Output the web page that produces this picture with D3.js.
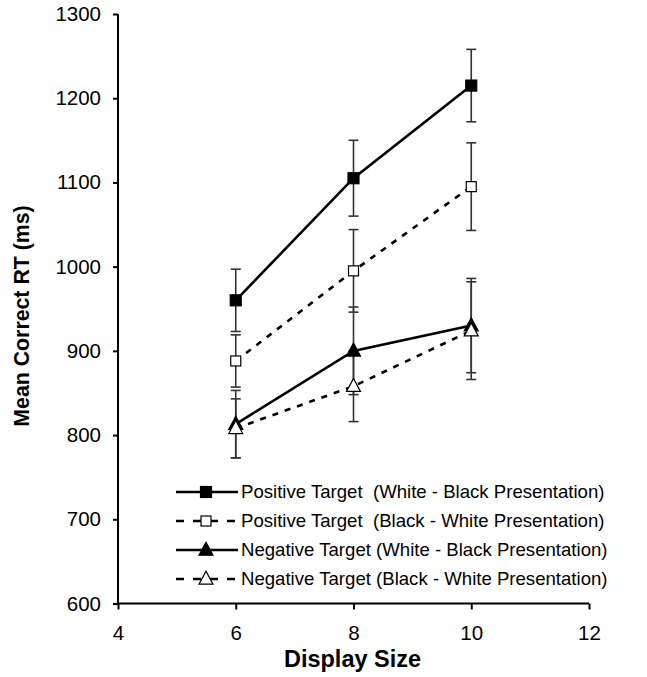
<!DOCTYPE html>
<html><head><meta charset="utf-8">
<script src="https://cdnjs.cloudflare.com/ajax/libs/d3/7.8.5/d3.min.js"></script>
<style>body{margin:0;background:#fff}svg{display:block}text{font-family:"Liberation Sans",Arial,sans-serif}</style>
</head><body><svg id="c" width="647" height="677"></svg>
<script>
const displaySizes = [6, 8, 10];
const xTicks = [4, 6, 8, 10, 12];
const yTicks = [600, 700, 800, 900, 1000, 1100, 1200, 1300];
const seriesNames = [
  "Positive Target  (White - Black Presentation)",
  "Positive Target  (Black - White Presentation)",
  "Negative Target (White - Black Presentation)",
  "Negative Target (Black - White Presentation)"
];
const posWB = [960, 1105, 1215];
const posWBErr = [37, 45, 43];
const posBW = [888, 995, 1095];
const posBWErr = [31, 49, 52];
const negWB = [813, 900, 930];
const negWBErr = [40, 52, 56];
const negBW = [808, 858, 924];
const negBWErr = [35, 42, 58];

const series = [
  {name: seriesNames[0], v: posWB, e: posWBErr, marker: "square", fill: "#000", dash: null},
  {name: seriesNames[1], v: posBW, e: posBWErr, marker: "square", fill: "#fff", dash: "6,7"},
  {name: seriesNames[2], v: negWB, e: negWBErr, marker: "triangle", fill: "#000", dash: null},
  {name: seriesNames[3], v: negBW, e: negBWErr, marker: "triangle", fill: "#fff", dash: "6,7"}
];

const svg = d3.select("#c");
const x = d3.scaleLinear().domain([4, 12]).range([118, 589]);
const y = d3.scaleLinear().domain([600, 1300]).range([603.5, 14]);

// axes
const xAxis = svg.append("g").attr("transform", "translate(0,603.5)")
  .call(d3.axisBottom(x).tickValues(xTicks).tickSize(6).tickPadding(16).tickFormat(d3.format("d")));
const yAxis = svg.append("g").attr("transform", "translate(118,0)")
  .call(d3.axisLeft(y).tickValues(yTicks).tickSize(5).tickPadding(12).tickFormat(d3.format("d")));
[xAxis, yAxis].forEach(a => {
  a.select(".domain").attr("stroke", "#000").attr("stroke-width", 2);
  a.selectAll(".tick line").attr("stroke", "#000").attr("stroke-width", 2);
  a.selectAll("text").attr("font-size", 20.5).attr("fill", "#000").attr("font-family", "Liberation Sans, Arial, sans-serif");
});
xAxis.select(".domain").attr("d", `M${x(4)},0H${x(12)}`);
yAxis.select(".domain").attr("d", `M0,${y(600)}V${y(1300)}`);

svg.append("text").attr("x", 352.5).attr("y", 667).attr("text-anchor", "middle")
  .attr("font-size", 23.5).attr("font-weight", "bold").text("Display Size");
svg.append("text").attr("transform", "translate(29,316) rotate(-90)").attr("text-anchor", "middle")
  .attr("font-size", 21.3).attr("font-weight", "bold").text("Mean Correct RT (ms)");

function drawMarker(g, type, fill, cx, cy) {
  if (type === "square") {
    const s = fill === "#000" ? 11 : 10;
    g.append("rect").attr("x", cx - s/2).attr("y", cy - s/2).attr("width", s).attr("height", s)
      .attr("fill", fill).attr("stroke", "#000").attr("stroke-width", 1.2);
  } else {
    const w = 14, h = 13;
    g.append("path").attr("d", `M${cx},${cy - h*0.6}L${cx + w/2},${cy + h*0.4}L${cx - w/2},${cy + h*0.4}Z`)
      .attr("fill", fill).attr("stroke", "#000").attr("stroke-width", 1.2);
  }
}

const plot = svg.append("g");
// error bars
series.forEach(s => {
  const g = plot.append("g");
  displaySizes.forEach((d, i) => {
    const cx = x(d), top = y(s.v[i] + s.e[i]), bot = y(s.v[i] - s.e[i]);
    g.append("line").attr("x1", cx).attr("x2", cx).attr("y1", top).attr("y2", bot).attr("stroke", "#333").attr("stroke-width", 1.6);
    [top, bot].forEach(yy => g.append("line").attr("x1", cx - 5).attr("x2", cx + 5).attr("y1", yy).attr("y2", yy).attr("stroke", "#333").attr("stroke-width", 1.6));
  });
});
// lines
const line = d3.line().x((d, i) => x(displaySizes[i])).y(d => y(d));
series.forEach(s => {
  plot.append("path").attr("d", line(s.v)).attr("fill", "none").attr("stroke", "#000")
    .attr("stroke-width", 2.6).attr("stroke-dasharray", s.dash);
});
series.forEach(s => {
  displaySizes.forEach((d, i) => drawMarker(plot, s.marker, s.fill, x(d), y(s.v[i])));
});

// legend
const legend = svg.append("g");
const legY = [492, 521, 550, 579];
series.forEach((s, i) => {
  const yy = legY[i];
  legend.append("line").attr("x1", 176).attr("x2", 238).attr("y1", yy).attr("y2", yy)
    .attr("stroke", "#000").attr("stroke-width", 2.6).attr("stroke-dasharray", s.dash ? "8,9" : null);
  drawMarker(legend, s.marker, s.fill, 206, yy);
  legend.append("text").attr("x", 241).attr("y", yy + 6).attr("font-size", 18.6).attr("fill", "#000")
    .attr("xml:space", "preserve").style("white-space", "pre").text(s.name);
});
</script></body></html>
